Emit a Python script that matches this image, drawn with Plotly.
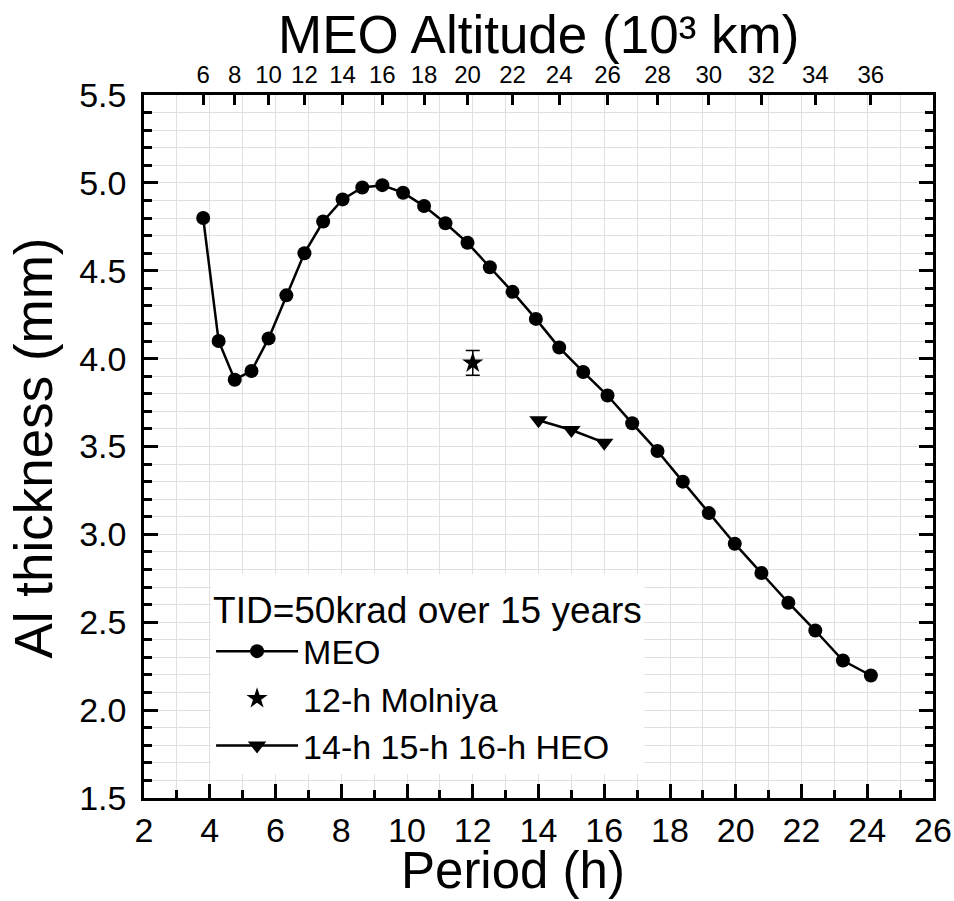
import plotly.graph_objects as go

# ---- data ----
meo_altitude_km3 = list(range(6, 37))  # 10^3 km
meo_period_h = [3.80, 4.27, 4.76, 5.27, 5.79, 6.33, 6.88, 7.45, 8.04, 8.64, 9.25,
                9.88, 10.52, 11.17, 11.84, 12.52, 13.21, 13.92, 14.63, 15.36, 16.10,
                16.85, 17.62, 18.39, 19.18, 19.97, 20.78, 21.60, 22.42, 23.26, 24.11]
meo_thickness = [4.80, 4.10, 3.88, 3.93, 4.115, 4.36, 4.60, 4.78, 4.906, 4.974, 4.987,
                 4.944, 4.868, 4.77, 4.659, 4.52, 4.38, 4.226, 4.063, 3.924, 3.79,
                 3.632, 3.474, 3.30, 3.121, 2.947, 2.78, 2.611, 2.453, 2.282, 2.197]

molniya_period = [12.0]
molniya_thickness = [3.976]
molniya_err = [0.07]

heo_period = [14.0, 15.0, 16.0]
heo_thickness = [3.649, 3.594, 3.522]

top_tick_alt = [a for a in meo_altitude_km3 if a % 2 == 0]
top_tick_pos = [p for a, p in zip(meo_altitude_km3, meo_period_h) if a % 2 == 0]
top_tick_text = [str(a) for a in top_tick_alt]

FONT = "Arial, Liberation Sans, sans-serif"
GRID = "#e0e0e0"

fig = go.Figure()

fig.add_trace(go.Scatter(
    x=meo_period_h, y=meo_thickness, mode="lines+markers", name="MEO",
    line=dict(color="black", width=2.5),
    marker=dict(symbol="circle", size=14, color="black"),
))
fig.add_trace(go.Scatter(
    x=molniya_period, y=molniya_thickness, mode="markers", name="12-h Molniya",
    marker=dict(symbol="star", size=16, color="black"),
    error_y=dict(type="data", array=molniya_err, color="black", thickness=1.5, width=7),
))
fig.add_trace(go.Scatter(
    x=heo_period, y=heo_thickness, mode="lines+markers", name="14-h 15-h 16-h HEO",
    line=dict(color="black", width=2.5),
    marker=dict(symbol="triangle-down", size=16, color="black"),
))
# invisible trace to anchor the top axis
fig.add_trace(go.Scatter(
    x=meo_period_h, y=meo_thickness, xaxis="x2", mode="markers",
    marker=dict(opacity=0), showlegend=False, hoverinfo="skip",
))

fig.update_layout(
    width=954, height=901,
    margin=dict(l=144, r=21, t=95, b=103, autoexpand=False),
    paper_bgcolor="white", plot_bgcolor="white",
    font=dict(family=FONT, color="black"),
    showlegend=True,
    legend=dict(
        x=0.085, y=0.318, xanchor="left", yanchor="top",
        bgcolor="rgba(255,255,255,1)",
        font=dict(size=34, family=FONT),
        title=dict(text="TID=50krad over 15 years", font=dict(size=37, family=FONT)),
        itemwidth=82, tracegroupgap=0,
    ),
    xaxis=dict(
        range=[2, 26], dtick=2, tick0=2, automargin=False,
        showline=True, linecolor="black", linewidth=2.5, mirror=False,
        ticks="inside", ticklen=14, tickwidth=2.5, tickcolor="black",
        tickfont=dict(size=34, family=FONT), ticklabelstandoff=0,
        showgrid=True, gridcolor=GRID, gridwidth=1,
        minor=dict(dtick=1, ticks="inside", ticklen=8, tickwidth=2.5, tickcolor="black",
                   showgrid=True, gridcolor=GRID, gridwidth=1),
        zeroline=False,
    ),
    xaxis2=dict(
        overlaying="x", side="top", range=[2, 26], automargin=False,
        tickmode="array", tickvals=top_tick_pos, ticktext=top_tick_text,
        showline=True, linecolor="black", linewidth=2.5,
        ticks="inside", ticklen=10, tickwidth=2.5, tickcolor="black",
        tickfont=dict(size=24, family=FONT),
        showgrid=False, zeroline=False,
    ),
    yaxis=dict(
        range=[1.5, 5.5], dtick=0.5, tick0=1.5, tickformat=".1f", automargin=False,
        showline=True, linecolor="black", linewidth=2.5, mirror="ticks",
        ticks="inside", ticklen=14, tickwidth=2.5, tickcolor="black",
        tickfont=dict(size=34, family=FONT), ticklabelstandoff=8,
        showgrid=True, gridcolor=GRID, gridwidth=1,
        minor=dict(dtick=0.1, ticks="inside", ticklen=8, tickwidth=2.5, tickcolor="black",
                   showgrid=True, gridcolor=GRID, gridwidth=1),
        zeroline=False,
    ),
    annotations=[
        dict(text="Period (h)", xref="paper", yref="paper", x=0.468, y=-0.1038,
             xanchor="center", yanchor="middle", showarrow=False,
             font=dict(size=51, family=FONT)),
        dict(text="MEO Altitude (10³ km)", xref="paper", yref="paper",
             x=0.5, y=1.0, yshift=61, xanchor="center", yanchor="middle", showarrow=False,
             font=dict(size=53, family=FONT)),
        dict(text="Al thickness (mm)", xref="paper", yref="paper", x=0, xshift=-110,
             y=0.497, xanchor="center", yanchor="middle", textangle=-90, showarrow=False,
             font=dict(size=53, family=FONT)),
    ],
)

fig.write_html("out.html")
